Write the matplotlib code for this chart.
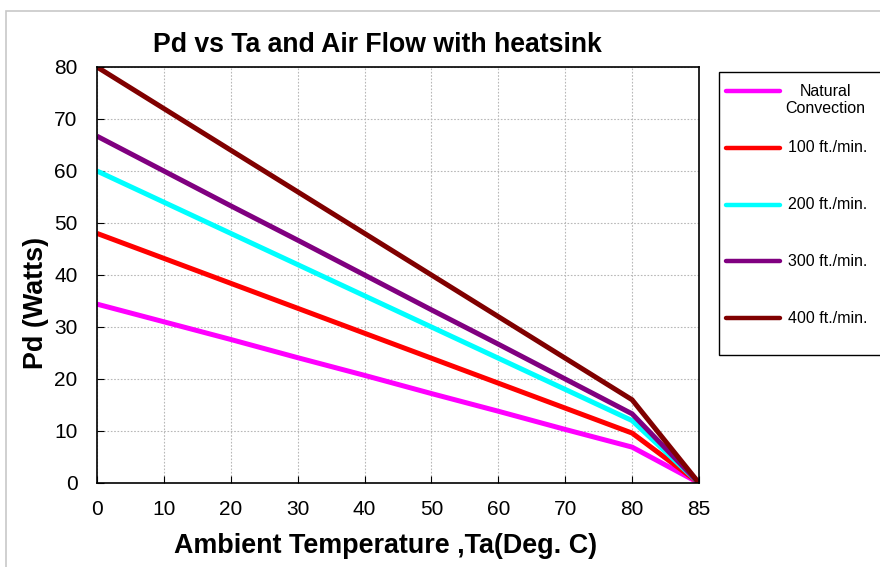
import matplotlib
matplotlib.use("Agg")
import matplotlib.pyplot as plt
from matplotlib.lines import Line2D
from matplotlib.patches import Rectangle

plt.rcParams['font.family'] = ['Liberation Sans', 'DejaVu Sans']

W, H = 880, 567

# ambient temperature categories (category axis, equally spaced)
ta_labels = ["0", "10", "20", "30", "40", "50", "60", "70", "80", "85"]

natural = [34.4, 31.0, 27.6, 24.1, 20.7, 17.2, 13.8, 10.3, 6.9, 0.0]
ff100 = [48.0, 43.2, 38.4, 33.6, 28.8, 24.0, 19.2, 14.4, 9.6, 0.0]
ff200 = [60.0, 54.0, 48.0, 42.0, 36.0, 30.0, 24.0, 18.0, 12.0, 0.0]
ff300 = [66.7, 60.0, 53.3, 46.7, 40.0, 33.3, 26.7, 20.0, 13.3, 0.0]
ff400 = [80.0, 72.0, 64.0, 56.0, 48.0, 40.0, 32.0, 24.0, 16.0, 0.0]

series = [
    ("Natural\nConvection", natural, "#ff00ff"),
    ("100 ft./min.", ff100, "#ff0000"),
    ("200 ft./min.", ff200, "#00ffff"),
    ("300 ft./min.", ff300, "#800080"),
    ("400 ft./min.", ff400, "#800000"),
]


def fx(px):
    return px / W


def fy(py):
    return 1 - py / H


fig = plt.figure(figsize=(W / 100, H / 100), dpi=100)
ax = fig.add_axes([fx(97), fy(483), 602 / W, 416 / H])

# light grey chart-area border
fig.patches.append(Rectangle((fx(6), -0.1), 1.0, fy(11) + 0.1,
                             transform=fig.transFigure, fill=False,
                             edgecolor="#c8c8c8", linewidth=1.2))

x = list(range(len(ta_labels)))
for label, vals, color in series:
    ax.plot(x, vals, color=color, linewidth=3.6, label=label,
            solid_capstyle="butt", solid_joinstyle="miter")

ax.set_xlim(0, len(ta_labels) - 1)
ax.set_ylim(0, 80)
ax.set_xticks(x)
ax.set_xticklabels(ta_labels)
ax.set_yticks(range(0, 81, 10))
ax.tick_params(direction="in", length=5, labelsize=15, color="black")
ax.tick_params(axis="x", pad=12)
ax.tick_params(axis="y", pad=14)
ax.grid(True, linestyle=(0, (1.5, 1.5)), color="#b8b8b8", linewidth=0.8)
for sp in ax.spines.values():
    sp.set_color("black")
    sp.set_linewidth(1.2)

ax.set_title("Pd vs Ta and Air Flow with heatsink", fontsize=19.2,
             fontweight="bold", pad=11, x=0.466)
ax.set_xlabel("Ambient Temperature ,Ta(Deg. C)", fontsize=19.4,
              fontweight="bold", labelpad=10, x=0.48)
ax.set_ylabel("Pd (Watts)", fontsize=19.4, fontweight="bold", labelpad=4,
              y=0.433)

# legend box, drawn the way the original (spreadsheet) legend looks
fig.patches.append(Rectangle((fx(719), fy(355)), 1.0, fy(72) - fy(355),
                             transform=fig.transFigure, fill=True,
                             facecolor="white", edgecolor="black",
                             linewidth=1.0))
for i, (label, vals, color) in enumerate(series):
    ly = 91 + 56.8 * i
    fig.add_artist(Line2D([fx(726), fx(780)], [fy(ly), fy(ly)],
                          transform=fig.transFigure, color=color,
                          linewidth=3.2, solid_capstyle="round"))
    if "\n" in label:
        fig.text(fx(825), fy(ly + 9), label, ha="center", va="center",
                 multialignment="center", fontsize=11.5, linespacing=1.15)
    else:
        fig.text(fx(788), fy(ly), label, ha="left", va="center",
                 fontsize=11.5)

fig.savefig("out.png", dpi=100)
